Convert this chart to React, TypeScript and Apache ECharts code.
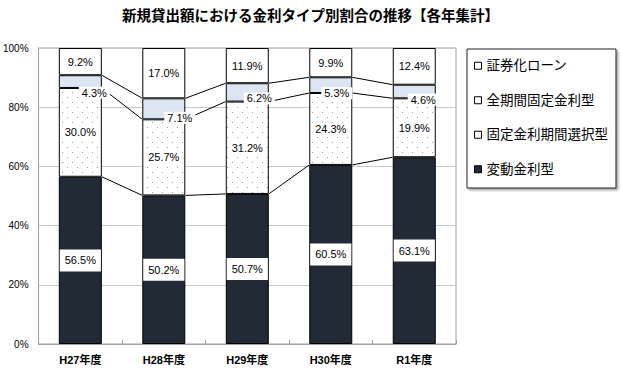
import React, { useEffect, useRef } from "react";
import * as echarts from "echarts";

const categories = ["H27年度", "H28年度", "H29年度", "H30年度", "R1年度"];
const hendo = [56.5, 50.2, 50.7, 60.5, 63.1];
const koteiSentaku = [30.0, 25.7, 31.2, 24.3, 19.9];
const zenKikan = [4.3, 7.1, 6.2, 5.3, 4.6];
const shokenka = [9.2, 17.0, 11.9, 9.9, 12.4];
const yTicks = [0, 20, 40, 60, 80, 100];
const smallLabelOffsets = [
  [14, 11],
  [16, 9],
  [12, 6],
  [6, 8],
  [9, 8],
];

const numFont = "'Liberation Sans Narrow', 'Liberation Sans', Arial, sans-serif";
const cjkFont = "'Liberation Sans', 'Noto Sans CJK JP', sans-serif";

export default function App() {
  const ref = useRef<HTMLDivElement>(null);
  useEffect(() => {
    if (!ref.current) return;
    const chart = echarts.init(ref.current, undefined, { renderer: "svg" });

    const cv = document.createElement("canvas");
    cv.width = 10;
    cv.height = 10;
    const ctx = cv.getContext("2d")!;
    ctx.fillStyle = "#ffffff";
    ctx.fillRect(0, 0, 10, 10);
    ctx.fillStyle = "#9a9a9a";
    ctx.fillRect(2, 2, 1, 1);
    ctx.fillRect(7, 7, 1, 1);

    const cum1 = hendo;
    const cum2 = hendo.map((v, i) => v + koteiSentaku[i]);
    const cum3 = cum2.map((v, i) => v + zenKikan[i]);
    const levels = [cum1, cum2, cum3];
    const barW = 43;

    const fmt = (p: any) => Number(p.value).toFixed(1) + "%";

    const bigLabel = {
      show: true,
      formatter: fmt,
      color: "#000",
      fontFamily: numFont,
      fontSize: 11,
      backgroundColor: "#fff",
      padding: [6, 5, 5, 5],
    };
    const smallLabel = {
      show: true,
      formatter: fmt,
      color: "#000",
      fontFamily: numFont,
      fontSize: 11,
      backgroundColor: "#fff",
      padding: [1, 3, 0, 3],
    };

    chart.setOption({
      animation: false,
      title: {
        text: "新規貸出額における金利タイプ別割合の推移【各年集計】",
        left: "center",
        top: 4,
        textStyle: {
          fontFamily: cjkFont,
          fontSize: 14.5,
          fontWeight: "bold",
          color: "#000",
        },
      },
      grid: {
        left: 35,
        right: 165,
        top: 48,
        bottom: 26,
        show: true,
        borderColor: "#a0a0a0",
        borderWidth: 1,
      },
      legend: {
        orient: "vertical",
        left: 467,
        top: 49,
        padding: [10, 8, 12, 7],
        itemGap: 21,
        itemWidth: 7,
        itemHeight: 7,
        itemTextGap: 3,
        icon: "rect",
        backgroundColor: "#fff",
        borderColor: "#222",
        borderWidth: 1,
        shadowColor: "rgba(0,0,0,0.35)",
        shadowBlur: 2,
        shadowOffsetX: 2,
        shadowOffsetY: 2,
        textStyle: { fontFamily: cjkFont, fontSize: 13.5, color: "#000" },
        data: [
          { name: "証券化ローン", itemStyle: { color: "#fff", borderColor: "#000", borderWidth: 1 } },
          { name: "全期間固定金利型", itemStyle: { color: "#fff", borderColor: "#000", borderWidth: 1 } },
          { name: "固定金利期間選択型", itemStyle: { color: "#fff", borderColor: "#000", borderWidth: 1 } },
          { name: "変動金利型", itemStyle: { color: "#222a35", borderColor: "#000", borderWidth: 1 } },
        ],
      },
      xAxis: {
        type: "category",
        data: categories,
        axisLine: { lineStyle: { color: "#a0a0a0" } },
        axisTick: { show: true, inside: true, length: 4, lineStyle: { color: "#a0a0a0" } },
        axisLabel: {
          fontFamily: cjkFont,
          fontSize: 11,
          fontWeight: "bold",
          color: "#000",
          margin: 10,
        },
      },
      yAxis: {
        type: "value",
        min: yTicks[0],
        max: yTicks[yTicks.length - 1],
        interval: 20,
        axisLine: { show: true, lineStyle: { color: "#a0a0a0" } },
        axisTick: { show: false },
        axisLabel: {
          formatter: "{value}%",
          fontFamily: numFont,
          fontSize: 10,
          color: "#000",
          margin: 10,
        },
        splitLine: { lineStyle: { color: "#c8c8c8" } },
      },
      series: [
        {
          name: "変動金利型",
          type: "bar",
          stack: "t",
          barWidth: barW,
          data: hendo,
          itemStyle: { color: "#222a35", borderColor: "#000", borderWidth: 1 },
          label: bigLabel,
          z: 3,
        },
        {
          name: "固定金利期間選択型",
          type: "bar",
          stack: "t",
          barWidth: barW,
          data: koteiSentaku,
          itemStyle: {
            color: { image: cv, repeat: "repeat" },
            borderColor: "#000",
            borderWidth: 1,
          },
          label: smallLabel,
          z: 3,
        },
        {
          name: "全期間固定金利型",
          type: "bar",
          stack: "t",
          barWidth: barW,
          data: zenKikan.map((v, i) => ({
            value: v,
            label: { offset: smallLabelOffsets[i] },
          })),
          itemStyle: { color: "#dce6f2", borderColor: "#000", borderWidth: 1 },
          label: smallLabel,
          z: 4,
        },
        {
          name: "証券化ローン",
          type: "bar",
          stack: "t",
          barWidth: barW,
          data: shokenka,
          itemStyle: { color: "#fff", borderColor: "#000", borderWidth: 1 },
          label: smallLabel,
          z: 3,
        },
        {
          name: "connect",
          type: "custom",
          z: 1,
          silent: true,
          data: categories.slice(0, categories.length - 1).map((_, i) => [i]),
          encode: { x: 0 },
          renderItem: (params: any, api: any) => {
            const i = params.dataIndex;
            const children = levels.map((lv) => {
              const p1 = api.coord([i, lv[i]]);
              const p2 = api.coord([i + 1, lv[i + 1]]);
              return {
                type: "line",
                shape: {
                  x1: p1[0] + barW / 2,
                  y1: p1[1],
                  x2: p2[0] - barW / 2,
                  y2: p2[1],
                },
                style: { stroke: "#000", lineWidth: 1 },
              };
            });
            return { type: "group", children };
          },
        },
      ],
    });
    return () => chart.dispose();
  }, []);
  return (
    <div
      ref={ref}
      style={{ position: "absolute", left: 0, top: 0, width: 621, height: 370 }}
    />
  );
}
